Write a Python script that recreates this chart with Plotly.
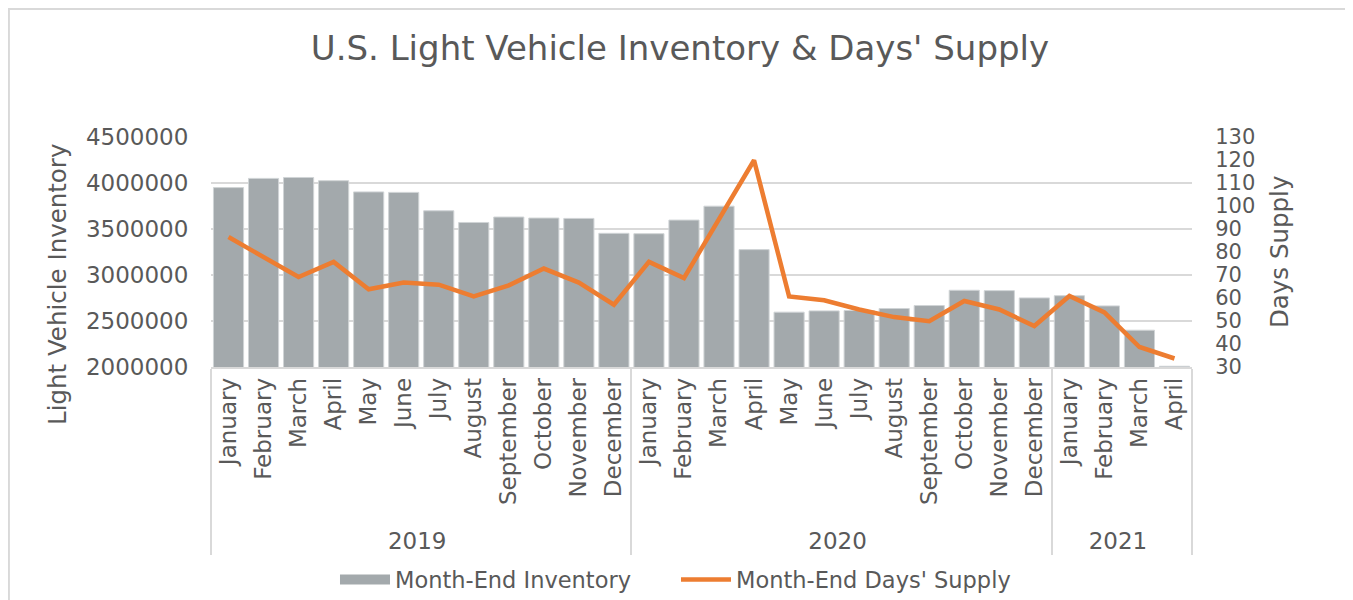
import plotly.graph_objects as go

# Data
years = ["2019"] * 12 + ["2020"] * 12 + ["2021"] * 4
months = ["January", "February", "March", "April", "May", "June", "July",
          "August", "September", "October", "November", "December"] * 2 + \
         ["January", "February", "March", "April"]
inventory = [3950000, 4050000, 4060000, 4025000, 3903000, 3898000, 3698000,
             3571000, 3630000, 3619000, 3615000, 3453000,
             3449000, 3597000, 3748000, 3276000, 2596000, 2610000, 2614000,
             2636000, 2668000, 2834000, 2830000, 2751000,
             2775000, 2664000, 2400000, 2008000]
days_supply = [86.5, 77.8, 69.1, 75.7, 63.8, 66.7, 65.8, 60.7, 65.5, 72.8, 66.7, 57.1,
               75.7, 68.7, 94.3, 119.9, 60.7, 59.0, 55.0, 51.7, 49.9, 58.7, 55.0, 47.8,
               60.9, 53.7, 38.7, 33.7]

FONT = "DejaVu Sans"
TXT = "#595959"
GRID = "#D9D9D9"
BAR = "#A3A9AC"
LINE = "#ED7D31"

fig = go.Figure()
fig.add_trace(go.Bar(
    x=[years, months], y=inventory, name="Month-End Inventory", showlegend=False,
    marker=dict(color=BAR, line=dict(color="#D0D4D6", width=1)),
))
fig.add_trace(go.Scatter(
    x=[years, months], y=days_supply, name="Month-End Days' Supply", showlegend=False,
    mode="lines", line=dict(color=LINE, width=4.5), yaxis="y2",
))
# legend entries (wide swatches like the original)
fig.add_trace(go.Scatter(x=[None], y=[None], mode="lines", name="Month-End Inventory",
                         line=dict(color=BAR, width=10)))
fig.add_trace(go.Scatter(x=[None], y=[None], mode="lines", name="Month-End Days' Supply",
                         line=dict(color=LINE, width=4.5)))

# page body has an 8px margin, so the figure is sized to fit the window
fig.update_layout(
    width=1345, height=592,
    paper_bgcolor="white", plot_bgcolor="white",
    font=dict(family=FONT, color=TXT),
    title=dict(text="U.S. Light Vehicle Inventory & Days' Supply",
               x=0.4996, xanchor="center", y=0.932, yanchor="middle",
               font=dict(size=34, color=TXT)),
    margin=dict(l=203, r=161, t=129, b=233),
    bargap=0.14,
    legend=dict(orientation="h", x=0.474, xanchor="center",
                yref="container", y=0.034, yanchor="middle",
                bgcolor="rgba(0,0,0,0)",
                font=dict(size=22.5, color=TXT), traceorder="normal", itemwidth=50,
                entrywidth=276, entrywidthmode="pixels"),
    xaxis=dict(
        type="multicategory", tickangle=-90, automargin=False,
        tickfont=dict(size=23, color=TXT),
        showline=True, linecolor=GRID, linewidth=1.5,
        showdividers=True, dividercolor=GRID, dividerwidth=1.5,
        ticks="outside", ticklen=10, tickcolor="white",
    ),
    yaxis=dict(
        range=[2000000, 4500000], dtick=500000, tickformat="d", automargin=False,
        gridcolor=GRID, gridwidth=1.5, zeroline=False,
        tickfont=dict(size=23, color=TXT), ticks="outside", ticklen=17, tickcolor="white",
    ),
    yaxis2=dict(
        overlaying="y", side="right", range=[30, 130], dtick=10, automargin=False,
        showgrid=False, zeroline=False,
        tickfont=dict(size=21, color=TXT), ticks="outside", ticklen=18, tickcolor="white",
    ),
    annotations=[
        dict(text="Light Vehicle Inventory", textangle=-90, xref="paper", yref="paper",
             x=-0.156, y=0.361, xanchor="center", yanchor="middle", showarrow=False,
             font=dict(size=24.5, color=TXT)),
        dict(text="Days Supply", textangle=-90, xref="paper", yref="paper",
             x=1.0887, y=0.5, xanchor="center", yanchor="middle", showarrow=False,
             font=dict(size=24.5, color=TXT)),
    ],
)

fig.add_shape(type="rect", xref="paper", yref="paper",
              x0=-0.206, x1=1.16, y0=-1.2, y1=1.557,
              line=dict(color=GRID, width=2), layer="below")

fig.write_html("out.html")
